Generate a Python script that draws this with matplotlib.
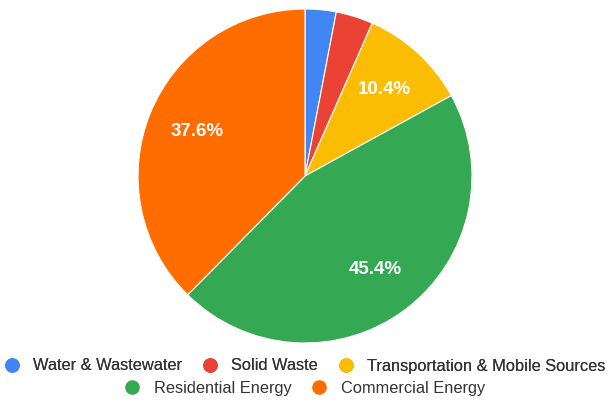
import matplotlib
matplotlib.use("Agg")
import matplotlib.pyplot as plt
from matplotlib.lines import Line2D

categories = ["Water & Wastewater", "Solid Waste", "Transportation & Mobile Sources",
              "Residential Energy", "Commercial Energy"]
values = [3.0, 3.6, 10.4, 45.4, 37.6]
colors = ["#4285F4", "#EA4335", "#FBBC04", "#34A853", "#FF6D01"]

plt.rcParams['font.family'] = ['Liberation Sans', 'DejaVu Sans']

W, H = 609, 401
fig = plt.figure(figsize=(W / 100, H / 100), dpi=100)
cx, cy, r = 305, 176, 167
ax = fig.add_axes([(cx - r) / W, (H - cy - r) / H, 2 * r / W, 2 * r / H])

wedges, texts, autotexts = ax.pie(
    values, colors=colors, startangle=90, counterclock=False,
    autopct=lambda p: f"{p:.1f}%" if p > 5 else "", pctdistance=0.70,
    wedgeprops=dict(linewidth=0.8, edgecolor="white"),
    textprops=dict(color="white", fontsize=13.5, fontweight="bold"))
ax.set_xlim(-1, 1)
ax.set_ylim(-1, 1)
ax.set_aspect("equal")
ax.axis("off")

handles = [Line2D([0], [0], marker="o", linestyle="", markersize=9.5,
                  markerfacecolor=c, markeredgecolor=c) for c in colors]

common = dict(frameon=False, handletextpad=0.8, columnspacing=1.2,
              prop=dict(size=11.8), labelcolor="#333333", handlelength=1.0,
              borderaxespad=0, borderpad=0)
leg1 = fig.legend(handles[:3], categories[:3], ncol=3, loc="center",
                  bbox_to_anchor=(0.5, 1 - 366 / H), **common)
fig.add_artist(leg1)
leg2 = fig.legend(handles[3:], categories[3:], ncol=2, loc="center",
                  bbox_to_anchor=(0.5, 1 - 388 / H), **common)

fig.savefig("out.png", dpi=100, facecolor="white")
